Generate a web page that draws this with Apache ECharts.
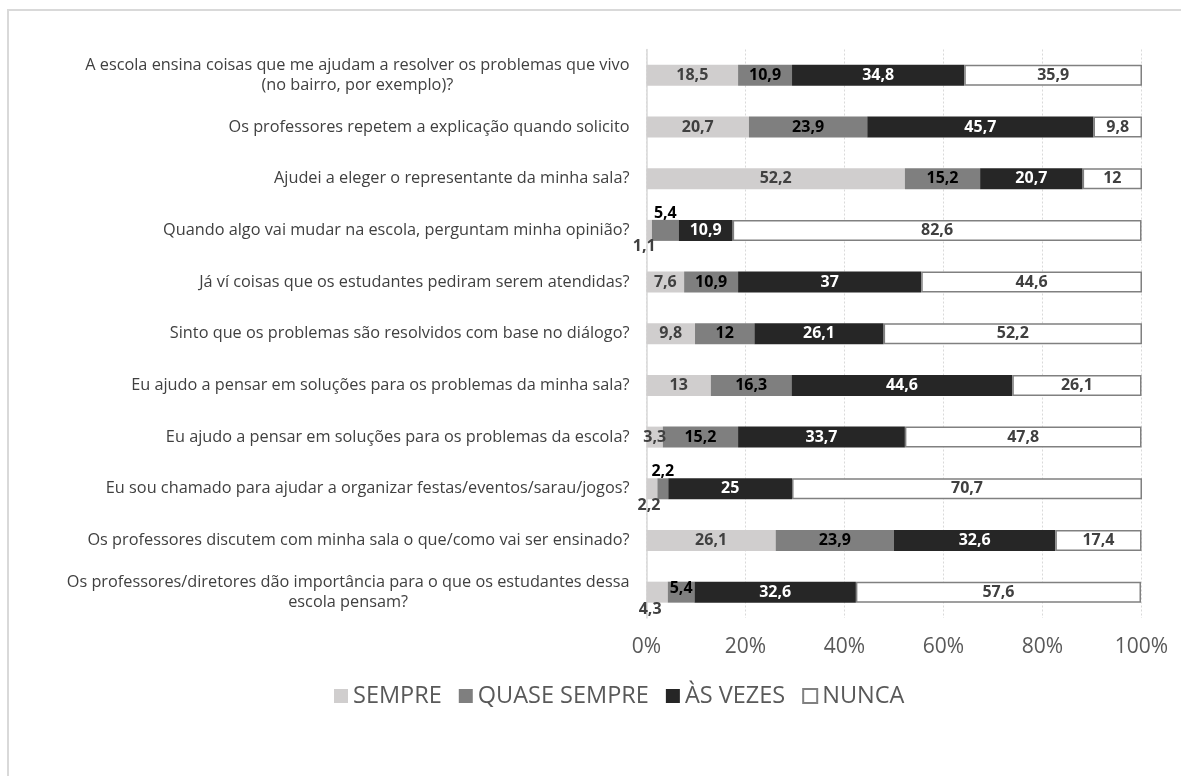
<!DOCTYPE html>
<html>
<head>
<meta charset="utf-8">
<title>Participação dos estudantes</title>
<script src="https://cdn.jsdelivr.net/npm/echarts@6/dist/echarts.min.js"></script>
<style>
  html, body { margin: 0; padding: 0; background: #ffffff; }
  #chart { width: 1181px; height: 776px; }
</style>
</head>
<body>
<div id="chart"></div>
<script>
// Survey questions (top to bottom)
const categories = [
  'A escola ensina coisas que me ajudam a resolver os problemas que vivo\n(no bairro, por exemplo)?',
  'Os professores repetem a explicação quando solicito',
  'Ajudei a eleger o representante da minha sala?',
  'Quando algo vai mudar na escola, perguntam minha opinião?',
  'Já ví coisas que os estudantes pediram serem atendidas?',
  'Sinto que os problemas são resolvidos com base no diálogo?',
  'Eu ajudo a pensar em soluções para os problemas da minha sala?',
  'Eu ajudo a pensar em soluções para os problemas da escola?',
  'Eu sou chamado para ajudar a organizar festas/eventos/sarau/jogos?',
  'Os professores discutem com minha sala o que/como vai ser ensinado?',
  'Os professores/diretores dão importância para o que os estudantes dessa\nescola pensam?'
];

// Answer shares (%)
const sempre      = [18.5, 20.7, 52.2, 1.1, 7.6, 9.8, 13, 3.3, 2.2, 26.1, 4.3];
const quaseSempre = [10.9, 23.9, 15.2, 5.4, 10.9, 12, 16.3, 15.2, 2.2, 23.9, 5.4];
const asVezes     = [34.8, 45.7, 20.7, 10.9, 37, 26.1, 44.6, 33.7, 25, 32.6, 32.6];
const nunca       = [35.9, 9.8, 12, 82.6, 44.6, 52.2, 26.1, 47.8, 70.7, 17.4, 57.6];

const seriesNames = ['SEMPRE', 'QUASE SEMPRE', 'ÀS VEZES', 'NUNCA'];
const axisTicks = [0, 20, 40, 60, 80, 100];

const FONT = '"Open Sans", "Noto Sans", sans-serif';
const fmt = v => String(v).replace('.', ',');

// Labels of very thin segments are moved outside the bar
const labelTweaks = {
  0: {
    3:  { position: 'bottom', distance: 0, offset: [-5, -2] },
    8:  { position: 'bottom', distance: 0, offset: [-3, -2] },
    10: { position: 'bottom', distance: 0, offset: [-7, -1] }
  },
  1: {
    3:  { position: 'top', distance: 0, offset: [0, 2] },
    8:  { position: 'top', distance: 0, offset: [0, 1] },
    10: { position: 'inside', offset: [0, -4] }
  }
};

function buildData(values, seriesIdx) {
  return values.map((v, i) => {
    const t = labelTweaks[seriesIdx] && labelTweaks[seriesIdx][i];
    return t ? { value: v, label: t } : v;
  });
}

const styles = [
  { color: '#d0cece', label: '#404040' },
  { color: '#7f7f7f', label: '#000000' },
  { color: '#262626', label: '#ffffff' },
  { color: '#ffffff', label: '#404040', border: '#808080' }
];

const allValues = [sempre, quaseSempre, asVezes, nunca];

const series = allValues.map((vals, idx) => ({
  name: seriesNames[idx],
  type: 'bar',
  stack: 'total',
  barWidth: 21,
  data: buildData(vals, idx),
  itemStyle: {
    color: styles[idx].color,
    borderColor: styles[idx].border || styles[idx].color,
    borderWidth: styles[idx].border ? 1.5 : 0
  },
  label: {
    show: true,
    position: 'inside',
    formatter: p => fmt(p.value),
    color: styles[idx].label,
    fontFamily: FONT,
    fontWeight: 'bold',
    fontSize: 16
  },
  emphasis: { disabled: true }
}));

const chart = echarts.init(document.getElementById('chart'), null, { renderer: 'canvas' });

chart.setOption({
  animation: false,
  backgroundColor: '#ffffff',
  graphic: [{
    type: 'rect',
    shape: { x: 8, y: 10, width: 1220, height: 820 },
    style: { fill: 'none', stroke: '#d9d9d9', lineWidth: 2 },
    silent: true
  }],
  grid: { left: 646.5, right: 39.5, top: 49.5, bottom: 158, containLabel: false },
  legend: {
    data: seriesNames,
    left: 329,
    top: 679,
    itemWidth: 14,
    itemHeight: 14,
    itemGap: 17,
    icon: 'rect',
    textStyle: { color: '#595959', fontSize: 23.5, fontFamily: FONT }
  },
  xAxis: {
    type: 'value',
    min: axisTicks[0],
    max: axisTicks[axisTicks.length - 1],
    interval: axisTicks[1] - axisTicks[0],
    axisLine: { show: false },
    axisTick: { show: false },
    splitLine: { show: true, lineStyle: { color: '#d9d9d9', type: [2, 2], width: 1 } },
    axisLabel: {
      formatter: v => v + '%',
      color: '#595959',
      fontSize: 21,
      fontFamily: FONT,
      margin: 19
    }
  },
  yAxis: {
    type: 'category',
    inverse: true,
    data: categories,
    axisLine: { show: true, lineStyle: { color: '#d9d9d9', width: 1.5 } },
    axisTick: { show: false },
    axisLabel: {
      color: '#404040',
      fontSize: 16.3,
      fontFamily: FONT,
      margin: 17,
      lineHeight: 20,
      formatter: v => v.split('\n').map(line => '{c|' + line + '}').join('\n'),
      rich: {
        c: { align: 'center', color: '#404040', fontSize: 16.3, fontFamily: FONT, lineHeight: 20 }
      }
    }
  },
  series: series
});
</script>
</body>
</html>
